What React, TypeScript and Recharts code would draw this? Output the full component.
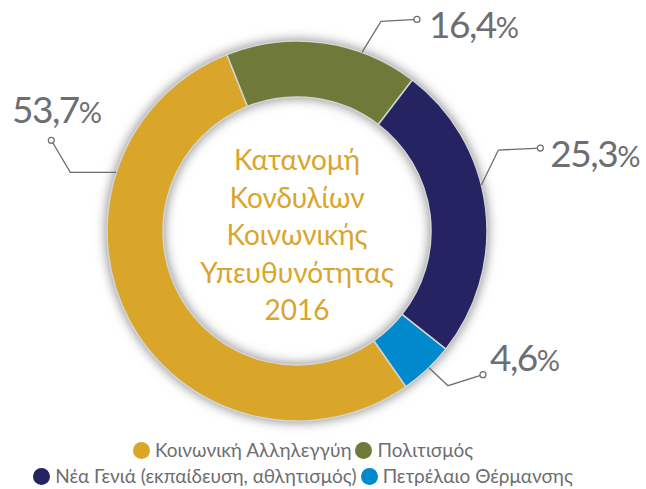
import { Legend, Pie, PieChart, Cell } from 'recharts'

const CATEGORIES = [
  'Κοινωνική Αλληλεγγύη',
  'Πολιτισμός',
  'Νέα Γενιά (εκπαίδευση, αθλητισμός)',
  'Πετρέλαιο Θέρμανσης',
]
const SHARES = [53.7, 16.4, 25.3, 4.6]
const COLORS = ['#daa62a', '#6f7a3a', '#252362', '#0089cc']
const TITLE_LINES = ['Κατανομή', 'Κονδυλίων', 'Κοινωνικής', 'Υπευθυνότητας', '2016']

const data = CATEGORIES.map((name, i) => ({ name, value: SHARES[i] }))
// plain white ring drawn underneath, only there to carry the soft shadow
const backing = [{ name: 'backing', value: 1 }]

const FONT = "Lato, 'Noto Sans', sans-serif"
const GREY = '#6d6e71'
const CX = 297
const CY = 231

// callouts were dragged by hand in the original, so each one has its own bend
// angle = where it leaves the ring, degrees clockwise from 12 o'clock
const LEADERS = [
  { angle: 288, elbow: [-46, 0], end: [-19, -32], text: [5, -17], anchor: 'middle' },
  { angle: 20, elbow: [19, -31], end: [36, -2], text: [12, 19], anchor: 'start' },
  { angle: 76, elbow: [17, -35], end: [42, -2], text: [10, 19], anchor: 'start' },
  { angle: 136, elbow: [19, 18], end: [35, -11], text: [7, -4], anchor: 'start' },
]

function renderLabel(props: any) {
  const { cx, cy, outerRadius, index, value } = props
  const l = LEADERS[index]
  const rad = (l.angle * Math.PI) / 180
  const x0 = cx + outerRadius * Math.sin(rad)
  const y0 = cy - outerRadius * Math.cos(rad)
  const x1 = x0 + l.elbow[0]
  const y1 = y0 + l.elbow[1]
  const x2 = x1 + l.end[0]
  const y2 = y1 + l.end[1]
  const txt = Number(value).toFixed(1).replace('.', ',')
  return (
    <g key={`callout-${index}`}>
      <polyline
        points={`${x0},${y0} ${x1},${y1} ${x2},${y2}`}
        fill="none"
        stroke={GREY}
        strokeWidth={1.3}
      />
      <circle cx={x2} cy={y2} r={3} fill="#fff" stroke={GREY} strokeWidth={1.2} />
      <text
        x={x2 + l.text[0]}
        y={y2 + l.text[1]}
        textAnchor={l.anchor as any}
        fill={GREY}
        fontSize={37}
        letterSpacing={-1.5}
        fontFamily={FONT}
      >
        {txt}
        <tspan fontSize={29}>%</tspan>
      </text>
    </g>
  )
}

function LegendRows() {
  return (
    <div
      style={{
        display: 'flex',
        flexWrap: 'wrap',
        justifyContent: 'center',
        width: 600,
        fontFamily: FONT,
        fontSize: 19,
        lineHeight: '26px',
        color: GREY,
      }}
    >
      {CATEGORIES.map((name, i) => (
        <span key={name} style={{ display: 'inline-flex', alignItems: 'center', marginRight: 4 }}>
          <span
            style={{
              display: 'inline-block',
              width: 17,
              height: 17,
              borderRadius: '50%',
              background: COLORS[i],
              marginRight: 5,
            }}
          />
          {name}
        </span>
      ))}
    </div>
  )
}

export default function App() {
  return (
    <div style={{ position: 'absolute', left: 0, top: 0, background: '#fff' }}>
      <style>{`.donut-shadow { filter: drop-shadow(0 0 6px rgba(0,0,0,0.28)); }`}</style>
      <PieChart width={646} height={489} margin={{ top: 0, right: 0, bottom: 0, left: 0 }}>
        <Pie
          className="donut-shadow"
          data={backing}
          dataKey="value"
          cx={CX}
          cy={CY}
          innerRadius={134}
          outerRadius={190}
          fill="#fff"
          stroke="none"
          isAnimationActive={false}
        />
        <Pie
          data={data}
          dataKey="value"
          cx={CX}
          cy={CY}
          innerRadius={134}
          outerRadius={190}
          startAngle={-55}
          endAngle={-415}
          stroke="#d4d4d4"
          strokeWidth={1.5}
          label={renderLabel}
          labelLine={false}
          isAnimationActive={false}
        >
          {data.map((d, i) => (
            <Cell key={d.name} fill={COLORS[i]} />
          ))}
        </Pie>
        <text textAnchor="middle" fill="#d9a52b" fontSize={28} fontFamily={FONT}>
          {TITLE_LINES.map((line, i) => (
            <tspan key={line} x={CX} y={CY - 61 + i * 37.5}>
              {line}
            </tspan>
          ))}
        </text>
        <Legend
          verticalAlign="bottom"
          content={() => <LegendRows />}
          wrapperStyle={{ left: 5, top: 437, bottom: 'auto', width: 600 }}
        />
      </PieChart>
    </div>
  )
}
